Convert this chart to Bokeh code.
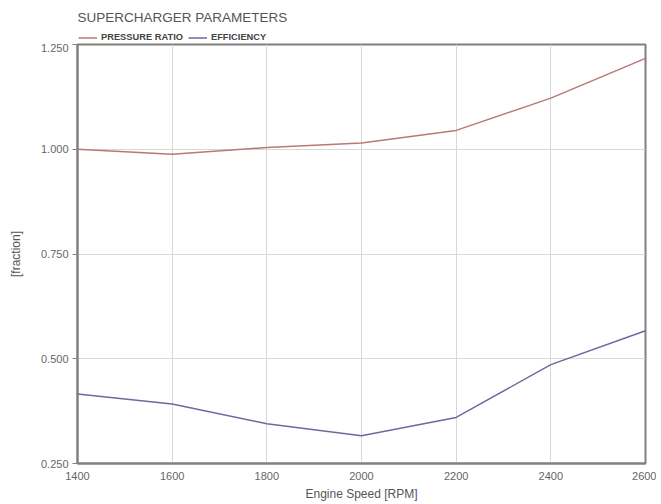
from bokeh.plotting import figure
from bokeh.layouts import column
from bokeh.models import Legend, LegendItem, FixedTicker, NumeralTickFormatter
from bokeh.embed import file_html
from bokeh.resources import INLINE

rpm = [1400, 1600, 1800, 2000, 2200, 2400, 2600]
pressure_ratio = [1.000, 0.988, 1.004, 1.015, 1.045, 1.122, 1.217]
efficiency = [0.416, 0.392, 0.345, 0.316, 0.360, 0.486, 0.567]
x_ticks = [1400, 1600, 1800, 2000, 2200, 2400, 2600]
y_ticks = [0.25, 0.5, 0.75, 1.0, 1.25]
series_names = ["PRESSURE RATIO", "EFFICIENCY"]
series_colors = ["#b87878", "#6a6a9e"]

FONT = "Liberation Sans"
GRAY = "#666666"

# ---- header: title + legend (series drawn off-view, only their legend shows) ----
h = figure(width=656, height=43, output_backend="svg", toolbar_location=None,
           x_range=(0, 1), y_range=(0, 1), x_axis_type=None, y_axis_type=None,
           min_border_left=77, min_border_right=11, min_border_top=29, min_border_bottom=0)
h.outline_line_color = None
h.grid.visible = False
h.title.text = "SUPERCHARGER PARAMETERS"
h.title.text_font = FONT
h.title.text_font_size = "13.5px"
h.title.text_font_style = "normal"
h.title.text_color = "#555555"
h.title.align = "left"

hr1 = h.line(rpm, pressure_ratio, line_color=series_colors[0], line_width=1.5)
hr2 = h.line(rpm, efficiency, line_color=series_colors[1], line_width=1.5)
legend = Legend(items=[LegendItem(label=series_names[0], renderers=[hr1]),
                       LegendItem(label=series_names[1], renderers=[hr2])],
                orientation="horizontal", location=(1, 1))
legend.label_text_font = FONT
legend.label_text_font_size = "9.3px"
legend.label_text_font_style = "bold"
legend.label_text_color = "#444444"
legend.glyph_width = 19
legend.glyph_height = 9
legend.label_height = 9
legend.label_standoff = 4
legend.spacing = 5
legend.padding = 0
legend.margin = 0
legend.border_line_color = None
legend.background_fill_alpha = 0
h.add_layout(legend)

# ---- main plot ----
p = figure(width=656, height=460, output_backend="svg", toolbar_location=None,
           x_range=(1400, 2600), y_range=(0.25, 1.25),
           min_border_left=77, min_border_right=11, min_border_top=1, min_border_bottom=40)

p.line(rpm, pressure_ratio, line_color=series_colors[0], line_width=1.5)
p.line(rpm, efficiency, line_color=series_colors[1], line_width=1.5)

p.xaxis.ticker = FixedTicker(ticks=x_ticks)
p.yaxis.ticker = FixedTicker(ticks=y_ticks)
p.yaxis.formatter = NumeralTickFormatter(format="0.000")
p.xaxis.axis_label = "Engine Speed [RPM]"
p.yaxis.axis_label = "[fraction]"

for ax in (p.xaxis, p.yaxis):
    ax.axis_label_text_font = FONT
    ax.axis_label_text_font_size = "12px"
    ax.axis_label_text_font_style = "normal"
    ax.axis_label_text_color = "#555555"
    ax.major_label_text_font = FONT
    ax.major_label_text_font_size = "11px"
    ax.major_label_text_color = GRAY
    ax.axis_line_color = "#808080"
    ax.axis_line_width = 2
    ax.major_tick_line_color = "#808080"
    ax.minor_tick_line_color = None
    ax.major_tick_in = 0

p.yaxis.major_tick_out = 5
p.yaxis.major_label_standoff = 4
p.yaxis.axis_label_standoff = 15
p.xaxis.major_tick_out = 0
p.xaxis.major_label_standoff = 8
p.xaxis.axis_label_standoff = 4

p.xgrid.ticker = FixedTicker(ticks=x_ticks)
p.ygrid.ticker = FixedTicker(ticks=y_ticks)
p.grid.grid_line_color = "#d8d8d8"
p.grid.grid_line_width = 1
p.outline_line_color = "#808080"
p.outline_line_width = 2
p.background_fill_color = "white"
p.border_fill_color = "white"

layout = column(h, p, spacing=0)
open("out.html", "w").write(file_html(layout, INLINE))
